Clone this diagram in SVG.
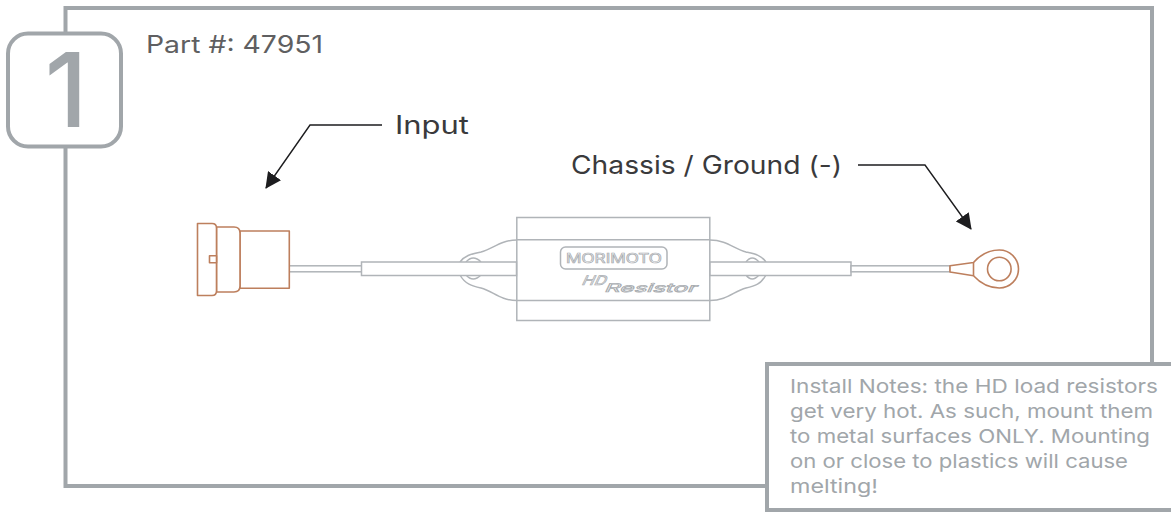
<svg xmlns="http://www.w3.org/2000/svg" width="1171" height="512" viewBox="0 0 1171 512">
<style>
text{font-family:Inter,"Open Sans","Liberation Sans",sans-serif}
.frame{fill:#fff;stroke:#a1a6aa;stroke-width:4}
.cu{fill:#fff;stroke:#bd7f5d;stroke-width:1.6;stroke-linejoin:round}
.gr{fill:none;stroke:#b0b4b8;stroke-width:1.5}
.grf{fill:#fff;stroke:#b0b4b8;stroke-width:1.5}
.ar{fill:none;stroke:#1d1d1f;stroke-width:1.4}
.lab{font-size:25px;fill:#3a3a3c}
.note{font-size:19px;fill:#a1a6aa}
.logo{fill:#fff;stroke:#a8acb0;stroke-width:.7}
</style>
<defs>
<marker id="ah" viewBox="0 0 16 16" refX="15" refY="8" markerWidth="16" markerHeight="16" markerUnits="userSpaceOnUse" orient="auto"><path d="M0 0L16 8L0 16Z" fill="#1d1d1f"/></marker>
</defs>
<rect width="1171" height="512" fill="#fff"/>
<g id="frame"><rect class="frame" x="65.500" y="8" width="1086.500" height="478"/></g>
<g id="badge">
<rect class="frame" x="8" y="33.500" width="113" height="113" rx="20"/>
<text x="66" y="127" font-size="103" text-anchor="middle" fill="#a1a6aa" style="font-weight:500">1</text>
</g>
<g id="part-number"><text x="146" y="53" font-size="24" fill="#5f5f61" textLength="177" lengthAdjust="spacingAndGlyphs">Part #: 47951</text></g>
<g id="connector-plug">
<rect class="grf" x="289" y="265.800" width="73" height="6"/>
<rect class="cu" x="240" y="231" width="49.300" height="57.300"/>
<path class="cu" d="M216.500 227H234Q240 227 240 233V286Q240 292 234 292H216.500Z"/>
<path class="cu" d="M197.500 223.500H212Q216.500 223.500 216.500 228V291Q216.500 295.500 212 295.500H197.500Z"/>
<rect class="cu" x="209.500" y="255.800" width="7" height="7"/>
</g>
<g id="resistor">
<path class="gr" d="M517 240C500 240 493 249 481 252C472 254 465 255 460 262M517 300.500C500 300.500 493 291 481 288C472 286 465 284 460 275"/>
<path class="gr" d="M710 240C727 240 734 249 746 252C755 254 761 255 766 262M710 300.500C727 300.500 734 291 746 288C755 286 761 284 766 275"/>
<path class="gr" d="M466 262Q473 254 481 262M466 275Q473 283 481 275M746 262Q752 254 759 262M746 275Q752 283 759 275"/>
<rect class="gr" x="516.800" y="217.500" width="193" height="103"/>
<path class="gr" d="M517 239.800H710M517 300.500H710"/>
<rect class="grf" x="361.500" y="262" width="155" height="13.500"/>
<rect class="grf" x="710" y="262" width="141" height="13.500"/>
<rect x="560.500" y="247" width="106.500" height="22" rx="5" fill="#fff" stroke="#b0b4b8" stroke-width="1.500"/>
<text class="logo" x="566" y="263" font-size="13" textLength="96" lengthAdjust="spacingAndGlyphs">MORIMOTO</text>
<g transform="skewX(-25)">
<text class="logo" x="714" y="285" font-size="13" transform="translate(0,0)" textLength="24" lengthAdjust="spacingAndGlyphs">HD</text>
<text class="logo" x="740" y="292" font-size="12" textLength="92" lengthAdjust="spacingAndGlyphs">Resistor</text>
</g>
</g>
<g id="ring-terminal">
<rect class="grf" x="851" y="265.800" width="99" height="6"/>
<path class="cu" d="M950 265.800L973.500 262.500C981 254 990 250 999.300 250C1010 250 1018.500 258.500 1018.500 269C1018.500 279.500 1010 288 999.300 288C990 288 981 284 973.500 275.800L950 272Z"/>
<path class="cu" d="M973.500 262.500V275.800" fill="none"/>
<circle class="cu" cx="999.300" cy="269" r="11.800"/>
</g>
<g id="connectors">
<path class="ar" d="M382 125H310L266 188" marker-end="url(#ah)"/>
<path class="ar" d="M858 165H925L971 229" marker-end="url(#ah)"/>
</g>
<g id="label-input"><text class="lab" x="395" y="134" textLength="74" lengthAdjust="spacingAndGlyphs">Input</text></g>
<g id="label-ground"><text class="lab" x="571" y="174" textLength="271" lengthAdjust="spacingAndGlyphs">Chassis / Ground (-)</text></g>
<g id="notes">
<rect class="frame" x="767" y="364" width="410" height="146"/>
<text class="note" x="790" y="393" textLength="368" lengthAdjust="spacingAndGlyphs">Install Notes: the HD load resistors</text>
<text class="note" x="790" y="418" textLength="363" lengthAdjust="spacingAndGlyphs">get very hot. As such, mount them</text>
<text class="note" x="790" y="443" textLength="360" lengthAdjust="spacingAndGlyphs">to metal surfaces ONLY. Mounting</text>
<text class="note" x="790" y="468" textLength="338" lengthAdjust="spacingAndGlyphs">on or close to plastics will cause</text>
<text class="note" x="790" y="493" textLength="88" lengthAdjust="spacingAndGlyphs">melting!</text>
</g>
</svg>
